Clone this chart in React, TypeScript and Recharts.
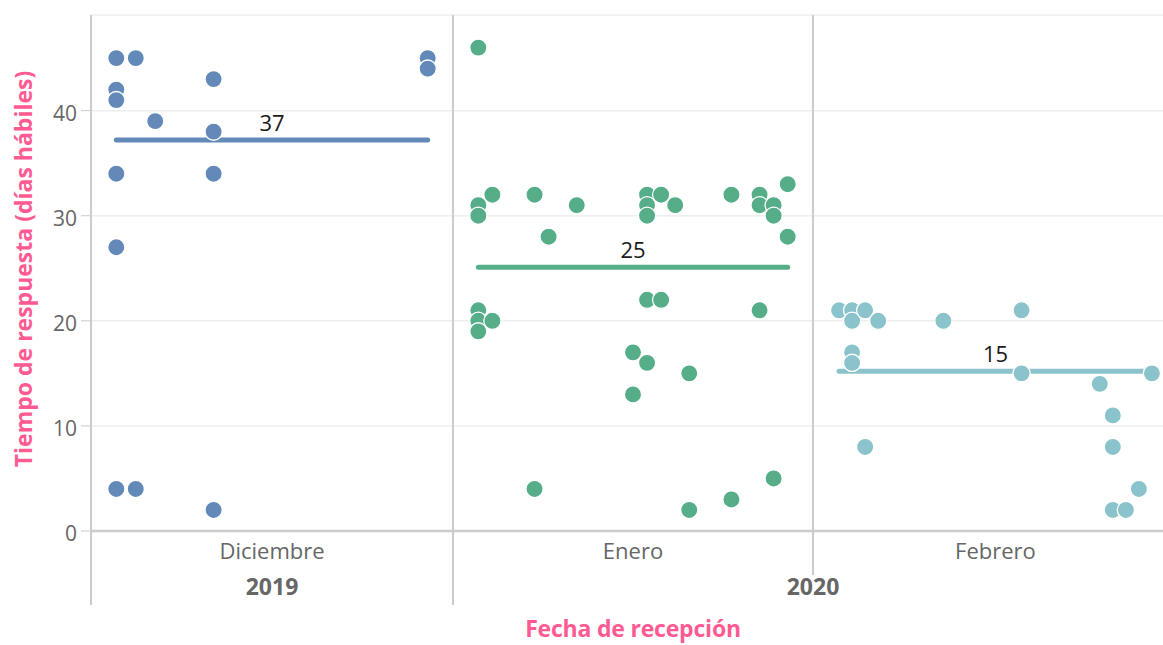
import React from 'react';
import { ScatterChart, Scatter, XAxis, YAxis, CartesianGrid, ReferenceLine } from 'recharts';

// día dentro del panel (0 = primer registro del mes) y tiempo de respuesta
const meses = ['Diciembre', 'Enero', 'Febrero'];
const colores = ['#6389b8', '#55ae88', '#8ac3cb'];

const diaDic = [0, 0, 0, 0, 0, 0, 1, 1, 2, 5, 5, 5, 5, 16, 16];
const tiempoDic = [45, 42, 41, 34, 27, 4, 45, 4, 39, 43, 38, 34, 2, 45, 44];

const diaEne = [0, 0, 0, 0, 0, 0, 1, 1, 4, 4, 5, 7, 11, 11, 12, 12, 12, 12, 12, 13, 13, 14, 15, 15, 18, 18, 20, 20, 20, 21, 21, 21, 22, 22];
const tiempoEne = [46, 31, 30, 21, 20, 19, 32, 20, 32, 4, 28, 31, 17, 13, 32, 31, 30, 22, 16, 32, 22, 31, 15, 2, 32, 3, 32, 31, 21, 31, 30, 5, 33, 28];

const diaFeb = [0, 1, 1, 1, 1, 2, 2, 3, 8, 14, 14, 20, 21, 21, 21, 22, 23, 24];
const tiempoFeb = [21, 21, 20, 17, 16, 21, 8, 20, 20, 21, 15, 14, 11, 8, 2, 2, 4, 15];

const promedios = [37.2, 25.1, 15.2];
const etiquetas = ['37', '25', '15'];
const ultimoDia = [16, 22, 24];

const yTicks = [0, 10, 20, 30, 40];

const toRows = (dias: number[], tiempos: number[]) => dias.map((d, i) => ({ dia: d, tiempo: tiempos[i] }));

const paneles = [
  { data: toRows(diaDic, tiempoDic), left: 0, width: 453, domain: [-1.3, 17.3], centro: 8, yAxis: true },
  { data: toRows(diaEne, tiempoEne), left: 453, width: 360, domain: [-1.8, 23.8], centro: 11, yAxis: false },
  { data: toRows(diaFeb, tiempoFeb), left: 813, width: 350, domain: [-2, 24.85], centro: 12, yAxis: false },
];

const font = '"Open Sans", sans-serif';
const pink = '#ff5b92';

const App: React.FC = () => {
  return (
    <div style={{ position: 'absolute', left: 0, top: 0, width: 1163, height: 645, overflow: 'hidden', background: '#fff', fontFamily: font }}>
      {paneles.map((p, i) => (
        <div key={i} style={{ position: 'absolute', left: p.left, top: 0 }}>
          <ScatterChart width={p.width} height={645} margin={{ top: 15, right: 0, bottom: 74, left: 0 }}>
            <CartesianGrid horizontal vertical={false} stroke="#eeeeee" strokeWidth={1.5} />
            <XAxis
              type="number"
              dataKey="dia"
              domain={p.domain}
              ticks={[p.centro]}
              tickFormatter={() => meses[i]}
              allowDataOverflow
              tickLine={false}
              tickSize={0}
              tickMargin={12}
              height={40}
              axisLine={{ stroke: '#cccccc', strokeWidth: 2.5 }}
              tick={{ fill: '#666', fontSize: 22, fontFamily: font }}
            />
            <YAxis
              type="number"
              dataKey="tiempo"
              domain={[0, 49.1]}
              ticks={yTicks}
              hide={!p.yAxis}
              width={91}
              axisLine={false}
              tickSize={10}
              tickMargin={4}
              tickLine={{ stroke: '#cccccc' }}
              tick={{ fill: '#666', fontSize: 21, fontFamily: font, dy: 3 }}
            />
            <Scatter
              data={p.data}
              isAnimationActive={false}
              shape={(s: any) => (
                <circle cx={s.cx} cy={s.cy} r={8.6} fill={colores[i]} stroke="#fff" strokeWidth={1.3} />
              )}
            />
            <ReferenceLine
              segment={[{ x: 0, y: promedios[i] }, { x: ultimoDia[i], y: promedios[i] }]}
              stroke={colores[i]}
              strokeWidth={5}
              strokeLinecap="round"
              label={{ value: etiquetas[i], position: 'top', offset: 9, fill: '#1a1a1a', fontSize: 22, fontFamily: font }}
            />
          </ScatterChart>
        </div>
      ))}
      <svg width={1163} height={645} style={{ position: 'absolute', left: 0, top: 0, pointerEvents: 'none' }}>
        <line x1={91} y1={15} x2={91} y2={605} stroke="#cccccc" strokeWidth={2} />
        <line x1={453} y1={15} x2={453} y2={605} stroke="#cccccc" strokeWidth={2} />
        <line x1={813} y1={15} x2={813} y2={575} stroke="#cccccc" strokeWidth={2} />
        <text x={272} y={595} textAnchor="middle" fill="#666" fontSize={23} fontWeight={700} fontFamily={font}>2019</text>
        <text x={813} y={595} textAnchor="middle" fill="#666" fontSize={23} fontWeight={700} fontFamily={font}>2020</text>
        <text x={633} y={637} textAnchor="middle" fill={pink} fontSize={23} fontWeight={700} fontFamily={font} letterSpacing={-0.2}>
          Fecha de recepción
        </text>
        <text
          x={23}
          y={269}
          transform="rotate(-90 23 269)"
          textAnchor="middle"
          dominantBaseline="central"
          fill={pink}
          fontSize={23}
          fontWeight={700}
          fontFamily={font}
        >
          Tiempo de respuesta (días hábiles)
        </text>
      </svg>
    </div>
  );
};

export default App;
